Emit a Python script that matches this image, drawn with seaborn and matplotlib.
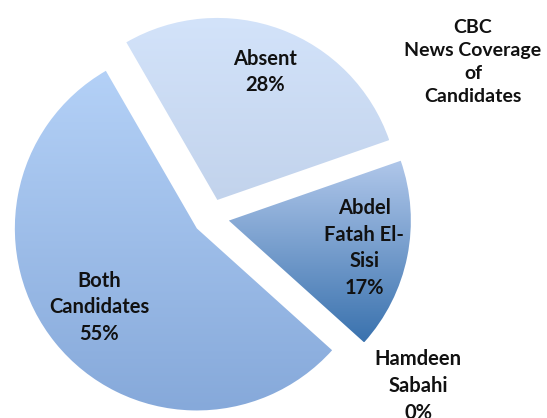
import numpy as np
import seaborn as sns
import matplotlib.pyplot as plt

sns.set_style('white')
plt.rcParams['font.family'] = ['Lato', 'DejaVu Sans']

# data
labels = ['Absent', 'Abdel\nFatah El-\nSisi', 'Hamdeen\nSabahi', 'Both\nCandidates']
shares = [28, 17, 0, 55]
title = 'CBC\nNews Coverage\nof\nCandidates'

# gradient colours (top, bottom) for each slice
grad = [('#d3e3fa', '#c2d3ec'),
        ('#b0c7ea', '#3a72ae'),
        ('#9fbbe2', '#6f98cc'),
        ('#b4d1f7', '#86a9da')]
label_dist = [0.75, 0.76, 1.37, 0.69]
label_turn = [0, 0, 3, 0]  # degrees, nudges label off the bisector

fig = plt.figure(figsize=(5.47, 4.18), dpi=100)
ax = fig.add_axes([0, 0, 1, 1])

wedges, _ = ax.pie(shares, explode=[0.1] * 4, startangle=120, counterclock=False,
                   radius=1, wedgeprops=dict(linewidth=0))

for w, (top, bot), v in zip(wedges, grad, shares):
    w.set_facecolor('none')
    if v == 0:
        continue
    verts = w.get_path().vertices
    x0, x1 = verts[:, 0].min(), verts[:, 0].max()
    y0, y1 = verts[:, 1].min(), verts[:, 1].max()
    cols = np.array(sns.blend_palette([bot, top], n_colors=256))
    img = cols[:, None, :]
    im = ax.imshow(img, extent=(x0, x1, y0, y1), origin='lower', aspect='auto',
                   interpolation='bilinear', zorder=1)
    im.set_clip_path(w)

# labels placed along each wedge's bisector
for w, lab, v, d, t in zip(wedges, labels, shares, label_dist, label_turn):
    ang = np.deg2rad((w.theta1 + w.theta2) / 2 + t)
    cx, cy = w.center
    ax.text(cx + d * np.cos(ang), cy + d * np.sin(ang), f'{lab}\n{v}%',
            ha='center', va='center', fontsize=14.5, fontweight='bold',
            color='#111111', linespacing=1.42, zorder=3)

fig.text(473 / 547, 1 - 62 / 418, title, ha='center', va='center', fontsize=14,
         fontweight='bold', color='#111111', linespacing=1.45)

ax.set_xlim(-211 / 182, (547 - 211) / 182)
ax.set_ylim(-(418 - 217) / 182, 217 / 182)
ax.set_aspect('auto')
ax.axis('off')

fig.savefig('out.png', dpi=100)
